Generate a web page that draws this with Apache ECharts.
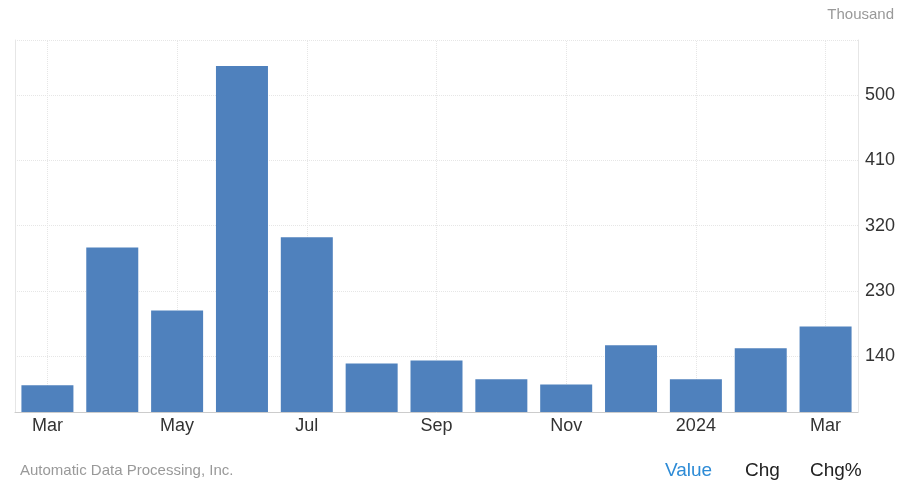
<!DOCTYPE html>
<html><head><meta charset="utf-8">
<script src="https://cdn.jsdelivr.net/npm/echarts@6/dist/echarts.min.js"></script>
<style>html,body{margin:0;padding:0;background:#fff}#c{width:900px;height:484px}</style>
</head><body><div id="c"></div>
<script>
const categories = ['Mar','Apr','May','Jun','Jul','Aug','Sep','Oct','Nov','Dec','2024','Feb','Mar'];
const values = [100, 290, 203, 540, 304, 130, 134, 108, 101, 155, 108, 151, 181];
const yTicks = [140, 230, 320, 410, 500];
const chart = echarts.init(document.getElementById('c'));
const vLines = categories.map((c, i) => i).filter(i => i % 2 === 0).map(i => ({xAxis: i}));
chart.setOption({
  animation: false,
  textStyle: {fontFamily: 'Arial, Liberation Sans, sans-serif'},
  grid: {left: 15, right: 42, top: 40, bottom: 72, containLabel: false},
  xAxis: {
    type: 'category', data: categories,
    axisLine: {lineStyle: {color: '#ccc'}},
    axisTick: {show: false},
    axisLabel: {interval: 1, color: '#333', fontSize: 18, margin: 5},
    splitLine: {show: false}
  },
  yAxis: [{
    type: 'value', position: 'right', min: 63, max: 576,
    axisLine: {show: true, lineStyle: {color: '#e6e6e6'}}, axisTick: {show: false, customValues: yTicks},
    axisLabel: {customValues: yTicks, color: '#333', fontSize: 18, margin: 7},
    splitLine: {lineStyle: {color: '#e6e6e6', type: 'dotted'}}
  }, {
    type: 'value', position: 'left', min: 63, max: 576,
    axisLine: {show: true, lineStyle: {color: '#e6e6e6'}}, axisTick: {show: false},
    axisLabel: {show: false}, splitLine: {show: false}
  }],
  series: [{type: 'bar', data: values, barWidth: 52, itemStyle: {color: '#4f81bd'}, z: 3,
    markLine: {silent: true, symbol: 'none', label: {show: false}, z: 1,
      lineStyle: {color: '#e6e6e6', type: 'dotted', width: 1}, data: [{yAxis: 576}].concat(vLines)}}],
  graphic: [
    {type: 'text', right: 6, top: 7, style: {text: 'Thousand', fill: '#999', fontSize: 15, fontFamily: 'Arial, Liberation Sans'}},
    {type: 'text', left: 20, top: 463, style: {text: 'Automatic Data Processing, Inc.', fill: '#999', fontSize: 15, fontFamily: 'Arial, Liberation Sans'}},
    {type: 'text', left: 665, top: 461, style: {text: 'Value', fill: '#2d8bd6', fontSize: 19, fontFamily: 'Arial, Liberation Sans'}},
    {type: 'text', left: 745, top: 461, style: {text: 'Chg', fill: '#222', fontSize: 19, fontFamily: 'Arial, Liberation Sans'}},
    {type: 'text', left: 810, top: 461, style: {text: 'Chg%', fill: '#222', fontSize: 19, fontFamily: 'Arial, Liberation Sans'}}
  ]
});
</script></body></html>
